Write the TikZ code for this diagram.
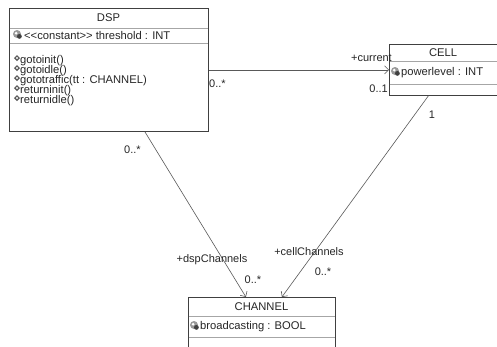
\documentclass[tikz,border=0pt]{standalone}
\usepackage{fontspec}
\setmainfont{Liberation Sans}
\usetikzlibrary{arrows.meta}
\begin{document}
\begin{tikzpicture}[x=1pt,y=-1pt,
  umlbox/.style={draw=black!75, line width=0.8pt, anchor=north west, inner sep=0pt},
  sepline/.style={draw=black!35, line width=1pt},
  txt/.style={font=\fontsize{11.2}{12}\selectfont, text=black!85, inner sep=0pt},
  lbl/.style={font=\fontsize{11}{12}\selectfont, text=black!85, inner sep=0pt},
  assoc/.style={draw=black!65, line width=0.6pt, -{Straight Barb[length=4pt,width=8pt]}},
  attrico/.pic={
    \fill[black!40] (0,0) circle (4pt);
    \fill[black!75] (2.4,2.4) circle (2.4pt);
    \fill[white] (-0.8,-0.8) circle (1.5pt);
  },
  opico/.pic={
    \fill[black!65] (0,-3) -- (3,0) -- (0,3) -- (-3,0) -- cycle;
    \fill[white] (0,-1.1) -- (1.1,0) -- (0,1.1) -- (-1.1,0) -- cycle;
  }
]
\useasboundingbox (0,0) rectangle (497,346);
\fill[white] (0,0) rectangle (497,346);

% DSP class
\node[umlbox, minimum width=199pt, minimum height=123pt] (dsp) at (9,8) {};
\draw[sepline] (9.5,28) -- (207.5,28);
\draw[sepline] (9.5,43) -- (207.5,43);
\node[txt] (dsptitle) at (108.5,18) {DSP};
\pic at (17,34) {attrico};
\node[txt, anchor=west] (dspattr) at (24,35.5) {<\kern0pt<constant>\kern0pt> threshold : INT};
\pic at (17,58) {opico};
\node[txt, anchor=west] (m1) at (20,61) {gotoinit()};
\pic at (17,68) {opico};
\node[txt, anchor=west] (m2) at (20,71) {gotoidle()};
\pic at (17,78) {opico};
\node[txt, anchor=west] (m3) at (20,81) {gototraffic(tt : CHANNEL)};
\pic at (17,88) {opico};
\node[txt, anchor=west] (m4) at (20,91) {returninit()};
\pic at (17,98) {opico};
\node[txt, anchor=west] (m5) at (20,101) {returnidle()};

% CELL class
\node[umlbox, minimum width=110pt, minimum height=51pt] (cell) at (389,44) {};
\draw[sepline] (389.5,61) -- (497,61);
\draw[sepline] (389.5,84) -- (497,84);
\node[txt] (celltitle) at (443,53) {CELL};
\pic at (395,71) {attrico};
\node[txt, anchor=west] (cellattr) at (401,72.5) {powerlevel : INT};

% CHANNEL class
\node[umlbox, minimum width=147pt, minimum height=60pt] (chan) at (188,297) {};
\draw[sepline] (188.5,316) -- (334.5,316);
\draw[sepline] (188.5,337) -- (334.5,337);
\node[txt] (chantitle) at (261.5,306.5) {CHANNEL};
\pic at (194,325) {attrico};
\node[txt, anchor=west] (chanattr) at (200,327) {broadcasting : BOOL};

% associations
\draw[assoc] (dsp.east) -- (cell.west);
\draw[assoc] ([xshift=36pt]dsp.south) -- ([xshift=-16pt]chan.north);
\draw[assoc] ([xshift=-16pt]cell.south) -- ([xshift=20pt]chan.north);

% labels
\node[lbl, anchor=east] (lcur) at (392,58) {+current};
\node[lbl, anchor=east] (l01) at (388,89) {0..1};
\node[lbl, anchor=west] (ldspc) at (209,84) {0..*};
\node[lbl, anchor=west] (ldspb) at (124,150) {0..*};
\node[lbl] (lone) at (432,115) {1};
\node[lbl] (ldspch) at (212,260) {+dspChannels};
\node[lbl] (ldspm) at (253,280) {0..*};
\node[lbl] (lcellch) at (309,252) {+cellChannels};
\node[lbl] (lcellm) at (323,272) {0..*};
\end{tikzpicture}
\end{document}
